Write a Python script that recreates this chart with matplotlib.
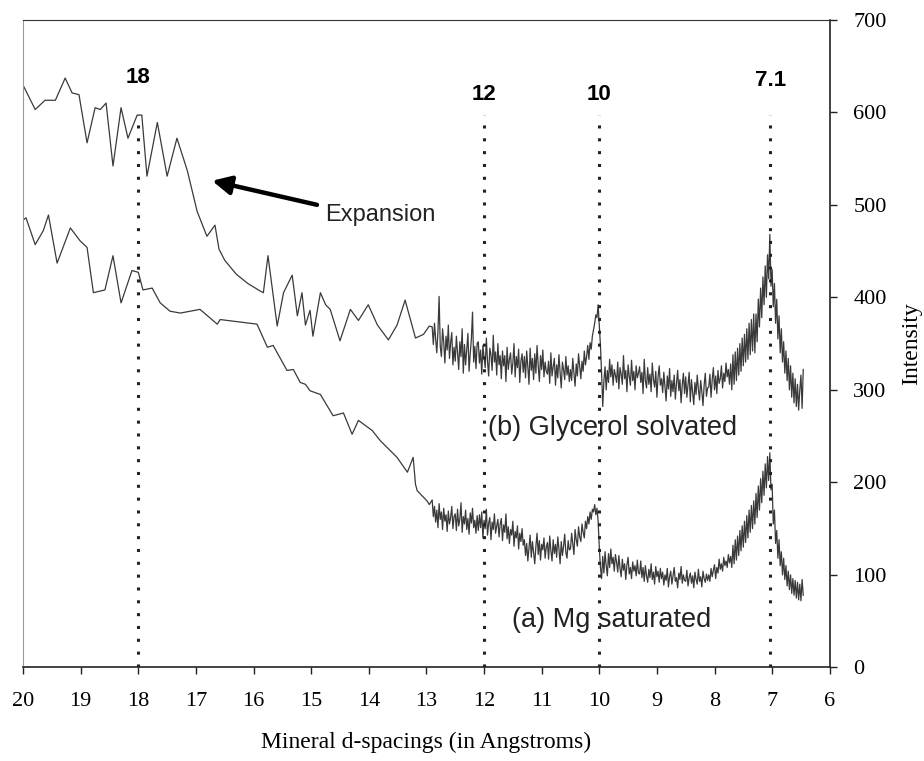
import numpy as np
import matplotlib.pyplot as plt

# d-spacing axis runs from 20 down to 6 Angstrom
# (b) glycerol solvated - smooth, low-angle part
glyc_x = [19.99, 19.95, 19.79, 19.62, 19.44, 19.27, 19.15, 19.03, 18.89, 18.75, 18.66,
          18.56, 18.44, 18.30, 18.18, 18.02, 17.94, 17.85, 17.67, 17.50, 17.33,
          17.15, 16.98, 16.81, 16.67, 16.60, 16.50, 16.30, 16.10, 15.89, 15.83,
          15.75, 15.59, 15.48, 15.33, 15.24, 15.16, 15.10, 15.02, 14.97, 14.84,
          14.75, 14.67, 14.50, 14.32, 14.18, 14.01, 13.85, 13.66, 13.51, 13.37,
          13.19, 13.05, 12.95]
glyc_y = [628, 623, 603, 613, 613, 637, 621, 619, 567, 605, 603,
          610, 542, 605, 572, 597, 597, 531, 589, 531, 572,
          537, 493, 466, 478, 452, 440, 425, 415, 407, 405,
          445, 369, 405, 424, 380, 405, 370, 386, 358, 405,
          392, 387, 353, 387, 375, 392, 370, 354, 370, 397,
          356, 360, 369]

# (a) Mg saturated - smooth, low-angle part
mg_x = [19.99, 19.95, 19.79, 19.65, 19.56, 19.41, 19.18, 19.01, 18.89, 18.78, 18.58,
        18.44, 18.30, 18.11, 18.00, 17.92, 17.76, 17.62, 17.45, 17.27, 16.93,
        16.63, 16.58, 15.94, 15.76, 15.66, 15.42, 15.31, 15.19, 15.10, 15.02,
        14.84, 14.62, 14.44, 14.29, 14.18, 13.94, 13.80, 13.51, 13.33, 13.23,
        13.19, 13.16, 12.99, 12.95]
mg_y = [484, 486, 457, 472, 489, 437, 475, 461, 454, 405, 408,
        445, 394, 429, 427, 408, 410, 394, 385, 383, 387,
        371, 376, 371, 346, 348, 321, 322, 308, 306, 299,
        295, 272, 275, 252, 267, 256, 245, 227, 211, 227,
        198, 191, 180, 176]

# noisy high-angle part, one reading every 0.02 A from 12.90 to 6.46
glyc_noisy = [
    368, 349, 372, 355, 340, 363, 401, 347, 336, 366, 352, 329, 358, 343, 370, 334, 351, 362, 327, 346,
    331, 358, 340, 322, 352, 336, 366, 318, 349, 327, 344, 361, 320, 339, 355, 384, 330, 347, 323, 350,
    352, 329, 343, 317, 348, 335, 324, 356, 331, 315, 345, 338, 321, 359, 330, 341, 316, 350, 327, 337,
    312, 342, 326, 337, 309, 346, 322, 333, 340, 317, 329, 350, 314, 336, 324, 344, 308, 331, 339, 319,
    336, 313, 342, 325, 306, 345, 321, 334, 311, 339, 318, 348, 326, 309, 337, 322, 343, 314, 330, 320,
    317, 331, 307, 340, 315, 325, 334, 305, 327, 313, 338, 319, 302, 330, 322, 311, 336, 316, 326, 309,
    322, 310, 334, 318, 304, 328, 315, 339, 325, 312, 331, 320, 342, 327, 336, 348, 333, 351, 344, 358,
    365, 372, 381, 378, 392, 370, 348, 318, 282, 310, 325, 300, 321, 308, 333, 314, 327, 305, 322, 316,
    308, 330, 301, 324, 317, 306, 337, 312, 321, 298, 327, 315, 305, 332, 310, 320, 300, 326, 313, 318,
    325, 308, 319, 296, 333, 310, 302, 324, 306, 317, 298, 329, 311, 303, 320, 292, 314, 326, 305, 312,
    297, 319, 304, 288, 315, 301, 323, 293, 310, 298, 316, 290, 307, 321, 299, 311, 286, 305, 318, 296,
    314, 292, 306, 319, 287, 311, 297, 284, 308, 295, 316, 301, 289, 310, 298, 283, 305, 318, 293, 302,
    303, 317, 292, 311, 324, 300, 315, 296, 321, 307, 312, 326, 302, 318, 309, 329, 314, 322, 306, 328,
    300, 338, 306, 341, 310, 345, 316, 350, 320, 356, 326, 360, 330, 366, 333, 372, 338, 376, 342, 382,
    340, 382, 352, 398, 368, 410, 378, 422, 392, 434, 400, 446, 420, 468, 412, 430, 390, 415, 372, 398,
    355, 380, 340, 366, 330, 352, 318, 342, 310, 334, 300, 326, 292, 318, 286, 312, 282, 306, 278, 300,
    316, 280, 322,
]
mg_noisy = [
    181, 163, 174, 157, 170, 151, 177, 160, 168, 149, 172, 158, 165, 147, 169, 155, 162, 174, 150, 163,
    166, 148, 171, 153, 160, 178, 146, 163, 155, 170, 149, 161, 144, 167, 156, 172, 151, 159, 145, 164,
    148, 165, 151, 168, 140, 159, 150, 171, 143, 156, 162, 138, 157, 149, 166, 145, 153, 160, 141, 155,
    161, 137, 154, 146, 166, 139, 152, 134, 149, 143, 158, 131, 147, 140, 153, 128, 145, 136, 150, 132,
    138, 121, 134, 115, 129, 143, 119, 136, 124, 112, 131, 145, 122, 137, 116, 133, 127, 140, 118, 130,
    135, 117, 142, 126, 115, 138, 123, 133, 119, 141, 128, 112, 136, 121, 131, 144, 124, 118, 137, 127,
    128, 145, 133, 122, 149, 138, 131, 152, 141, 136, 155, 146, 140, 158, 150, 163, 155, 168, 160, 171,
    168, 176, 165, 172, 158, 130, 108, 96, 120, 102, 125, 110, 99, 123, 108, 128, 112, 119, 104, 122,
    114, 103, 121, 107, 98, 117, 105, 112, 95, 111, 119, 101, 108, 96, 114, 104, 110, 99, 116, 102,
    101, 115, 97, 108, 93, 110, 99, 92, 106, 97, 112, 95, 103, 90, 109, 98, 104, 92, 107, 96,
    103, 89, 100, 94, 107, 87, 98, 104, 90, 99, 108, 93, 97, 86, 102, 95, 109, 91, 100, 94,
    93, 105, 88, 97, 102, 91, 99, 86, 103, 95, 90, 106, 93, 98, 87, 104, 96, 92, 101, 94,
    100, 93, 107, 98, 105, 111, 96, 108, 102, 117, 106, 112, 104, 119, 110, 115, 108, 122, 113, 120,
    108, 132, 112, 138, 116, 142, 121, 148, 126, 153, 130, 158, 135, 164, 140, 170, 146, 175, 150, 180,
    155, 188, 162, 196, 170, 204, 178, 212, 186, 220, 194, 228, 202, 232, 192, 198, 155, 170, 134, 148,
    118, 138, 110, 125, 100, 118, 95, 110, 88, 104, 84, 100, 80, 96, 78, 94, 75, 92, 73, 90,
    72, 95, 78,
]
noisy_x = np.linspace(12.90, 6.46, len(glyc_noisy))

peak_pos = [18.0, 12.0, 10.0, 7.03]
peak_labels = ['18', '12', '10', '7.1']
peak_label_y = [638, 619, 619, 634]

fig = plt.figure(figsize=(9.24, 7.61), dpi=100)
ax = fig.add_axes([0.025, 0.123, 0.873, 0.851])

line_col = '#3a3a3a'
ax.plot(np.concatenate([glyc_x, noisy_x]), np.concatenate([glyc_y, glyc_noisy]),
        color=line_col, lw=0.9)
ax.plot(np.concatenate([mg_x, noisy_x]), np.concatenate([mg_y, mg_noisy]),
        color=line_col, lw=0.9)

# dotted reference lines and their labels
for xp, lab, ly in zip(peak_pos, peak_labels, peak_label_y):
    ax.plot([xp, xp], [0, 597], color='#222222', lw=2.2, linestyle=(0, (1, 3.2)))
    ax.text(xp, ly, lab, ha='center', va='center', fontsize=16, fontweight='bold',
            family='Liberation Sans')

ax.text(11.93, 259, '(b) Glycerol solvated', ha='left', va='center', fontsize=19.5,
        family='Liberation Sans', color='#222222')
ax.text(11.51, 51, '(a) Mg saturated', ha='left', va='center', fontsize=19.5,
        family='Liberation Sans', color='#222222')

ax.annotate('', xy=(16.72, 526), xytext=(14.90, 500),
            arrowprops=dict(arrowstyle='-|>', lw=3.2, color='black', mutation_scale=28,
                            shrinkA=0, shrinkB=0))
ax.text(14.76, 489, 'Expansion', ha='left', va='center', fontsize=17,
        family='Liberation Sans', color='#222222')

ax.set_xlim(20, 6)
ax.set_ylim(0, 700)
ax.set_xticks(range(20, 5, -1))
ax.set_yticks(range(0, 701, 100))

ax.yaxis.tick_right()
ax.yaxis.set_label_position('right')
ax.tick_params(axis='both', direction='out', length=5, width=1, color='#222222',
               labelsize=16)
ax.tick_params(axis='x', pad=13)
ax.tick_params(axis='y', pad=12)
for lab in ax.get_xticklabels() + ax.get_yticklabels():
    lab.set_family('Liberation Serif')

ax.spines['left'].set_color('#9a9a9a')
ax.spines['left'].set_linewidth(0.8)
ax.spines['top'].set_color('#333333')
ax.spines['right'].set_color('#222222')
ax.spines['right'].set_linewidth(1.2)
ax.spines['bottom'].set_color('#222222')
ax.spines['bottom'].set_linewidth(1.2)

ax.set_xlabel('Mineral d-spacings (in Angstroms)', fontsize=17, family='Liberation Serif')
ax.xaxis.set_label_coords(0.5, -0.1)
ax.set_ylabel('Intensity', fontsize=17, family='Liberation Serif')
ax.yaxis.set_label_coords(1.088, 0.5)

fig.savefig('out.png', dpi=100)
